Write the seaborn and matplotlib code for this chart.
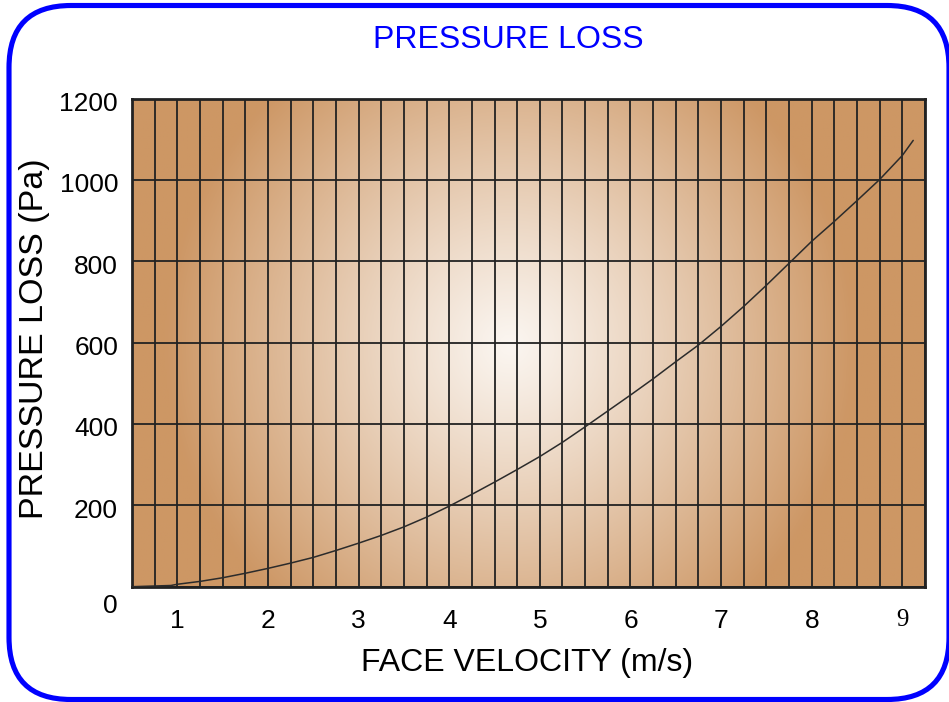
import numpy as np
import pandas as pd
import matplotlib
matplotlib.use("Agg")
import matplotlib.pyplot as plt
import matplotlib.transforms as mtransforms
from matplotlib.patches import FancyBboxPatch
import seaborn as sns

# ---- data ----
velocity = [0.5, 0.93, 1.0, 1.25, 1.5, 1.75, 2.0, 2.25, 2.5, 2.75, 3.0, 3.25,
            3.5, 3.75, 4.0, 4.25, 4.5, 4.75, 5.0, 5.25, 5.5, 5.75, 6.0, 6.25,
            6.5, 6.75, 7.0, 7.25, 7.5, 7.75, 8.0, 8.25, 8.5, 8.75, 9.0, 9.12]
pressure = [0, 3, 6, 13, 22, 33, 45, 58, 72, 89, 107, 126,
            147, 171, 198, 227, 257, 288, 320, 355, 393, 432, 471, 511,
            553, 594, 640, 689, 741, 795, 849, 898, 949, 1001, 1060, 1097]
x_ticks = [1, 2, 3, 4, 5, 6, 7, 8, 9]
y_ticks = [0, 200, 400, 600, 800, 1000, 1200]

df = pd.DataFrame({"v": velocity, "p": pressure})

sns.set_theme(style="white")
plt.rcParams["font.family"] = ["Liberation Sans", "DejaVu Sans"]

W, H = 949, 702
fig = plt.figure(figsize=(W / 100, H / 100), dpi=100)

# blue rounded frame around whole figure
bg = fig.add_axes([0, 0, 1, 1])
bg.set_xlim(0, W)
bg.set_ylim(H, 0)
bg.axis("off")
frame = FancyBboxPatch((9, 5.5), 940, 694, boxstyle="round,pad=0,rounding_size=62",
                       fill=False, edgecolor="#0000ff", linewidth=3.7)
bg.add_patch(frame)

# plot area (pixel box 132..925 x 98.5..586.7)
L, R, T, B = 132, 925, 98.5, 586.7
ax = fig.add_axes([L / W, 1 - B / H, (R - L) / W, (B - T) / H])

# radial tan gradient behind the grid
xs = np.linspace(L, R, 400)
ys = np.linspace(T, B, 250)
X, Y = np.meshgrid(xs, ys)
r = np.sqrt((X - 510) ** 2 + (Y - 345) ** 2) / 345
t = np.clip(r, 0, 1) ** 1.1
light = np.array([251, 246, 241]) / 255
dark = np.array([205, 151, 101]) / 255
img = light[None, None, :] + (dark - light)[None, None, :] * t[..., None]
ax.imshow(img, extent=(0.5, 9.25, 0, 1200), aspect="auto", origin="upper", zorder=0)

sns.lineplot(data=df, x="v", y="p", ax=ax, color="#2b2b2b", linewidth=1.1, zorder=3)

ax.set_xlim(0.5, 9.25)
ax.set_ylim(0, 1200)
ax.set_xticks(x_ticks)
ax.set_xticks(np.arange(0.5, 9.26, 0.25), minor=True)
ax.set_yticks(y_ticks)
ax.grid(True, which="both", axis="x", color="#222222", linewidth=1.3, zorder=1)
ax.grid(True, which="major", axis="y", color="#222222", linewidth=1.3, zorder=1)
ax.set_axisbelow(False)
for s in ax.spines.values():
    s.set_color("#222222")
    s.set_linewidth(2)
ax.tick_params(which="both", length=0)
ax.tick_params(axis="x", labelsize=19, pad=16, colors="black")
ax.tick_params(axis="y", labelsize=19, pad=10, colors="black")

# last x label is drawn in a serif face in the reference
xl = ax.get_xticklabels()
xl[-1].set_fontfamily("Liberation Serif")
xl[-1].set_fontsize(18)

# y labels sit a little below their gridlines
for lab, val in zip(ax.get_yticklabels(), y_ticks):
    dy = -17 if val == 0 else -3
    off = mtransforms.ScaledTranslation(0, dy / 100, fig.dpi_scale_trans)
    lab.set_transform(lab.get_transform() + off)

ax.set_xlabel("FACE VELOCITY (m/s)", fontsize=23, va="center", color="black")
ax.xaxis.set_label_coords(0.498, (B - 663) / (B - T))
ax.set_ylabel("PRESSURE LOSS (Pa)", fontsize=24.5, va="center", color="black")
ax.yaxis.set_label_coords((35 - L) / (R - L), (B - 339) / (B - T))

fig.text(508 / W, 1 - 40 / H, "PRESSURE LOSS", color="#0000ff", fontsize=23,
         ha="center", va="center")

fig.savefig("out.png", dpi=100)
